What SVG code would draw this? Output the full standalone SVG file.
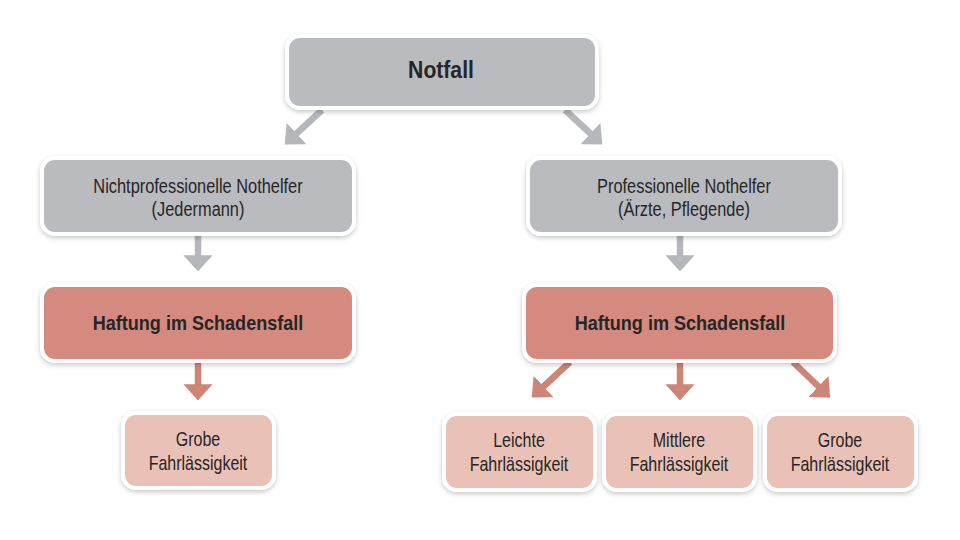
<svg xmlns="http://www.w3.org/2000/svg" width="960" height="540" viewBox="0 0 960 540">
<defs>
<filter id="sh" x="-10%" y="-20%" width="120%" height="150%">
<feDropShadow dx="0" dy="2" stdDeviation="2.5" flood-color="#000" flood-opacity="0.22"/>
</filter>
<marker id="ag" viewBox="0 0 10 10" refX="0.5" refY="5" markerWidth="2.5" markerHeight="4.5" preserveAspectRatio="none" markerUnits="strokeWidth" orient="auto">
<path d="M0,0 L10,5 L0,10 Z" fill="#b5b7bb"/>
</marker>
<marker id="ar" viewBox="0 0 10 10" refX="0.5" refY="5" markerWidth="2.5" markerHeight="4.5" preserveAspectRatio="none" markerUnits="strokeWidth" orient="auto">
<path d="M0,0 L10,5 L0,10 Z" fill="#cf8576"/>
</marker>
</defs>
<style>
.box{stroke:#fff;stroke-width:4;filter:url(#sh)}
.g{fill:#b9bbbf}
.r{fill:#d48a7e}
.p{fill:#e9c1b6}
text{font-family:"Liberation Sans",Arial,sans-serif;fill:#262626;text-anchor:middle}
.t{font-size:21px}
.s{font-size:20.5px}
.b{font-weight:bold;font-size:21px}
.n{font-weight:bold;font-size:23px}
.cg{stroke:#b5b7bb;stroke-width:6.5;fill:none;marker-end:url(#ag)}
.cr{stroke:#cf8576;stroke-width:6.5;fill:none;marker-end:url(#ar)}
</style>
<rect width="960" height="540" fill="#fff"/>
<g id="connectors">
<path class="cg" d="M322,110 L296,134"/>
<path class="cg" d="M565,110 L591,134"/>
<path class="cg" d="M198,236 L198,256"/>
<path class="cg" d="M680,236 L680,256"/>
<path class="cr" d="M198,362 L198,385"/>
<path class="cr" d="M570,362 L543,387"/>
<path class="cr" d="M680,362 L680,385"/>
<path class="cr" d="M793,362 L819,387"/>
</g>
<g id="notfall">
<rect class="box g" x="287" y="36" width="310" height="72" rx="13"/>
<text class="n" transform="translate(441,78) scale(0.92,1)">Notfall</text>
</g>
<g id="nichtprof">
<rect class="box g" x="42" y="158" width="312" height="76" rx="13"/>
<text class="t" transform="translate(198,193) scale(0.78,1)">Nichtprofessionelle Nothelfer</text>
<text class="t" transform="translate(198,216) scale(0.78,1)">(Jedermann)</text>
</g>
<g id="prof">
<rect class="box g" x="528" y="158" width="312" height="76" rx="13"/>
<text class="t" transform="translate(684,193) scale(0.78,1)">Professionelle Nothelfer</text>
<text class="t" transform="translate(684,216) scale(0.78,1)">(Ärzte, Pflegende)</text>
</g>
<g id="haftung-links">
<rect class="box r" x="42" y="285" width="312" height="76" rx="13"/>
<text class="b" transform="translate(198,330) scale(0.86,1)">Haftung im Schadensfall</text>
</g>
<g id="haftung-rechts">
<rect class="box r" x="524" y="285" width="311" height="76" rx="13"/>
<text class="b" transform="translate(680,330) scale(0.86,1)">Haftung im Schadensfall</text>
</g>
<g id="grobe-links">
<rect class="box p" x="123" y="413" width="151" height="75" rx="13"/>
<text class="s" transform="translate(198,446) scale(0.78,1)">Grobe</text>
<text class="s" transform="translate(198,470) scale(0.78,1)">Fahrlässigkeit</text>
</g>
<g id="leichte">
<rect class="box p" x="444" y="414" width="151" height="76" rx="13"/>
<text class="s" transform="translate(519,447) scale(0.78,1)">Leichte</text>
<text class="s" transform="translate(519,471) scale(0.78,1)">Fahrlässigkeit</text>
</g>
<g id="mittlere">
<rect class="box p" x="604" y="414" width="151" height="76" rx="13"/>
<text class="s" transform="translate(679,447) scale(0.78,1)">Mittlere</text>
<text class="s" transform="translate(679,471) scale(0.78,1)">Fahrlässigkeit</text>
</g>
<g id="grobe-rechts">
<rect class="box p" x="765" y="414" width="151" height="76" rx="13"/>
<text class="s" transform="translate(840,447) scale(0.78,1)">Grobe</text>
<text class="s" transform="translate(840,471) scale(0.78,1)">Fahrlässigkeit</text>
</g>
</svg>
